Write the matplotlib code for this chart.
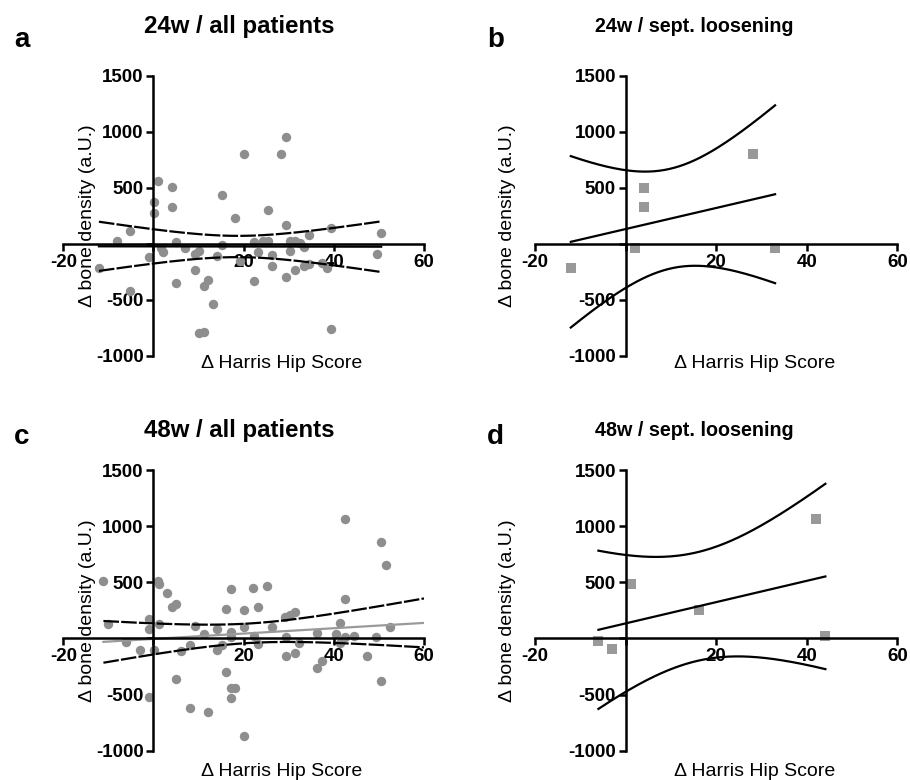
import numpy as np
import matplotlib
matplotlib.use("Agg")
import matplotlib.pyplot as plt

plt.rcParams['font.family'] = ['Liberation Sans', 'DejaVu Sans']

# 24w / all patients: delta Harris Hip Score vs delta bone density
hhs_24_all = [-12.1, -8.0, -5.1, -5.1, -1.0, 0.1, 0.1, 1.0, 1.7, 2.2, 4.1, 4.1, 5.1, 5.1,
              7.1, 9.1, 9.1, 10.2, 10.2, 11.3, 11.1, 12.2, 13.2, 14.2, 15.2, 15.2, 18.1,
              19.2, 20.1, 22.2, 22.2, 23.2, 24.3, 25.3, 25.5, 26.2, 26.2, 28.2, 29.3, 29.3,
              29.3, 30.2, 30.2, 31.3, 31.3, 32.4, 33.3, 33.3, 34.4, 34.4, 37.3, 38.4, 39.4,
              39.4, 49.5, 50.5]
bd_24_all = [-216, 30, 111, -419, -117, 374, 278, 557, -36, -75, 503, 326, 21, -350,
             -36, -237, -90, -60, -793, -784, -380, -326, -536, -105, 437, -6, 230,
             -150, 805, 21, -335, -72, 30, 305, 27, -102, -200, 802, 952, 168,
             -296, 24, -63, 24, -231, 9, -30, -200, 75, -177, -171, -216, 144,
             -763, -87, 96]

# 24w / septic loosening
hhs_24_sept = [-12.1, 2.0, 4.0, 4.0, 28.1, 33.0]
bd_24_sept = [-212, -36, 501, 328, 803, -36]

# 48w / all patients
hhs_48_all = [-11.1, -10.0, -6.0, -3.0, -1.1, -1.1, -1.1, 0.1, 0.9, 1.2, 1.2, 3.0, 4.1,
              5.1, 5.1, 6.1, 8.1, 8.1, 9.1, 11.1, 12.1, 14.1, 14.1, 15.2, 16.1, 16.1,
              17.1, 17.1, 17.1, 17.1, 18.1, 17.1, 20.1, 20.1, 20.1, 22.1, 22.2, 23.2,
              23.2, 25.2, 26.2, 29.2, 29.3, 29.3, 30.2, 31.3, 31.3, 32.3, 36.3, 36.3,
              37.3, 40.4, 41.3, 41.3, 42.4, 42.4, 42.4, 44.4, 47.4, 49.4, 50.5, 50.5,
              51.5, 52.4]
bd_48_all = [509, 129, -33, -105, 171, 84, -518, -99, 509, 482, 129, 401, 284,
             305, -359, -111, -620, -57, 114, 42, -659, 84, -99, -57, 260, -299,
             437, 60, 9, -440, -440, -530, 254, 99, -868, 446, 21, 284,
             -51, 464, 105, 195, 9, -159, 213, 234, -129, -39, 51, -263,
             -198, 42, 141, -45, 1063, 350, 9, 21, -159, 15, 859, -383,
             659, 105]

# 48w / septic loosening
hhs_48_sept = [-6.0, -2.9, 1.1, 16.1, 42.0, 44.1]
bd_48_sept = [-27, -98, 484, 255, 1063, 23]

# two-sided 95% t quantiles by degrees of freedom
T975 = {4: 2.776, 54: 2.005, 62: 1.999}

panels = [
    # letter, title, x, y, marker, fit colour, ci style, fit x-end
    ("a", "24w / all patients", hhs_24_all, bd_24_all, "o", "black", (0, (7, 1)), None),
    ("b", "24w / sept. loosening", hhs_24_sept, bd_24_sept, "s", "black", "-", None),
    ("c", "48w / all patients", hhs_48_all, bd_48_all, "o", "#9a9a9a", (0, (7, 1)), 60),
    ("d", "48w / sept. loosening", hhs_48_sept, bd_48_sept, "s", "black", "-", None),
]

# axes boxes in pixels: left, right, top(1500), bottom(-1000)
boxes = [(63.3, 424.0, 75.7, 356.0), (535.0, 897.4, 75.7, 356.0),
         (63.3, 424.0, 470.2, 750.6), (535.0, 897.4, 470.2, 750.6)]
W, H = 910, 780

fig = plt.figure(figsize=(9.1, 7.8), dpi=100)


def fit_ci(x, y, xs):
    x = np.asarray(x, float)
    y = np.asarray(y, float)
    n = len(x)
    slope, icpt = np.polyfit(x, y, 1)
    res = y - (slope * x + icpt)
    s = np.sqrt(np.sum(res ** 2) / (n - 2))
    sxx = np.sum((x - x.mean()) ** 2)
    yh = slope * xs + icpt
    se = s * np.sqrt(1.0 / n + (xs - x.mean()) ** 2 / sxx)
    t = T975[n - 2]
    return yh, yh - t * se, yh + t * se


for i, (letter, title, x, y, mk, fcol, cis, xend) in enumerate(panels):
    l, r, t, b = boxes[i]
    ax = fig.add_axes([l / W, 1 - b / H, (r - l) / W, (b - t) / H])
    ax.set_xlim(-20, 60)
    ax.set_ylim(-1000, 1500)

    if mk == "o":
        ax.scatter(x, y, s=46, marker="o", color="#8e8e8e", linewidths=0,
                   zorder=2, clip_on=False)
    else:
        ax.scatter(x, y, s=52, marker="s", color="#999999", linewidths=0,
                   zorder=2, clip_on=False)

    x0 = min(x)
    x1 = xend if xend is not None else max(x)
    xs = np.linspace(x0, x1, 200)
    yh, lo, hi = fit_ci(x, y, xs)
    ax.plot(xs, yh, color=fcol, lw=1.6, zorder=3)
    ax.plot(xs, lo, color="black", lw=1.6, ls=cis, zorder=3)
    ax.plot(xs, hi, color="black", lw=1.6, ls=cis, zorder=3)

    for sp in ("top", "right"):
        ax.spines[sp].set_visible(False)
    ax.spines["left"].set_position(("data", 0))
    ax.spines["bottom"].set_position(("data", 0))
    for sp in ("left", "bottom"):
        ax.spines[sp].set_linewidth(1.8)
        ax.spines[sp].set_zorder(4)
    ax.set_xticks([-20, 0, 20, 40, 60])
    ax.set_xticklabels(["-20", "", "20", "40", "60"])
    ax.set_yticks([-1000, -500, 0, 500, 1000, 1500])
    ax.set_yticklabels(["-1000", "-500", "", "500", "1000", "1500"])
    ax.tick_params(width=1.8, length=5, labelsize=13.5, pad=2)
    for lab in ax.get_xticklabels() + ax.get_yticklabels():
        lab.set_fontweight("bold")
    ax.patch.set_alpha(0)

    # axis titles
    row_off = 7 if i < 2 else 21
    fig.text((l + 0.605 * (r - l)) / W, 1 - (b + row_off) / H, "\u0394 Harris Hip Score",
             ha="center", va="center", fontsize=14)
    ylab_x = 88 if i % 2 == 0 else 508
    fig.text(ylab_x / W, 1 - (t + b) / 2 / H, "\u0394 bone density (a.U.)",
             ha="center", va="center", rotation=90, fontsize=14)

    # panel title and letter
    ty = 27 if i < 2 else 430
    ly = 40 if i < 2 else 437
    if i % 2 == 0:
        tx, tsize = (l + r) / 2 - 4.6, 17.3
    else:
        tx, tsize = 694, 14.2
    fig.text(tx / W, 1 - ty / H, title, ha="center", va="center",
             fontsize=tsize, fontweight="bold")
    lx = 14 if i % 2 == 0 else 487
    fig.text(lx / W, 1 - ly / H, letter, ha="left", va="center",
             fontsize=20, fontweight="bold")

fig.savefig("out.png", dpi=100)
